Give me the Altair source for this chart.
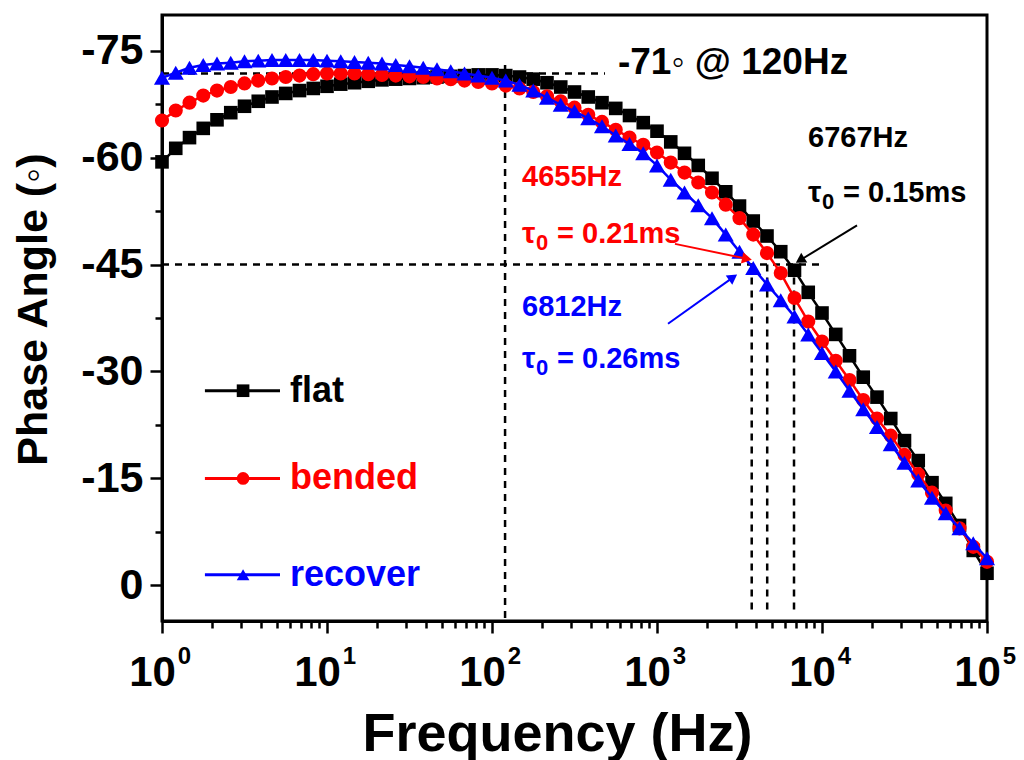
import altair as alt
import pandas as pd

FONT = "Liberation Sans"

series_names = ["flat", "bended", "recover"]
series_colors = ["#000000", "#FF0000", "#0000FF"]
series_shapes = ["square", "circle", "triangle-up"]
series_sizes = [185, 200, 260]

# measurement sweep: 12 points per decade, 1 Hz .. 100 kHz
freq_hz = [10 ** (k / 12) for k in range(61)]

flat = [-59.4, -61.3, -62.8, -64.1, -65.3, -66.3, -67.2, -67.9, -68.5, -69.0,
        -69.4, -69.7, -70.0, -70.3, -70.5, -70.7, -70.9, -71.0, -71.1, -71.2,
        -71.3, -71.4, -71.5, -71.6, -71.6, -71.5, -71.3, -71.0, -70.5, -69.9,
        -69.2, -68.5, -67.7, -66.9, -65.9, -64.9, -63.7, -62.2, -60.6, -58.9,
        -57.1, -55.2, -53.2, -51.1, -49.0, -46.8, -44.2, -41.1, -38.2, -35.2,
        -32.2, -29.2, -26.4, -23.4, -20.3, -17.5, -14.4, -11.5, -8.4, -4.9, -1.7]

bended = [-65.2, -66.6, -67.7, -68.7, -69.4, -69.9, -70.4, -70.8, -71.1, -71.3,
          -71.5, -71.7, -71.8, -71.8, -71.8, -71.7, -71.6, -71.5, -71.4, -71.3,
          -71.1, -71.0, -70.8, -70.6, -70.4, -70.1, -69.7, -69.2, -68.6, -67.9,
          -67.0, -66.0, -65.0, -63.9, -62.8, -61.8, -60.7, -59.3, -57.9, -56.5,
          -55.1, -53.4, -51.5, -49.2, -46.6, -43.8, -40.3, -37.0, -34.2, -31.5,
          -28.8, -26.0, -23.4, -21.0, -18.3, -15.6, -13.0, -10.5, -8.0, -5.4, -3.3]

recover = [-71.2, -71.9, -72.6, -73.0, -73.2, -73.3, -73.5, -73.6, -73.7, -73.7,
           -73.7, -73.7, -73.6, -73.5, -73.4, -73.3, -73.2, -73.0, -72.8, -72.6,
           -72.4, -72.1, -71.8, -71.5, -71.2, -70.8, -70.2, -69.4, -68.4, -67.4,
           -66.5, -65.5, -64.4, -63.1, -61.9, -60.6, -58.9, -56.9, -55.1, -53.3,
           -51.5, -49.2, -46.8, -44.5, -42.2, -40.0, -37.7, -35.2, -32.6, -30.0,
           -27.3, -24.7, -22.2, -19.8, -17.2, -14.7, -12.3, -10.1, -8.0, -5.9, -3.8]

x_major = [1, 10, 100, 1000, 10000, 100000]
x_minor = [m * 10 ** e for e in range(5) for m in range(2, 10)]
y_major = [-75, -60, -45, -30, -15, 0]
y_minor = [-67.5, -52.5, -37.5, -22.5, -7.5]

# dashed guide lines (x1, x2, y1, y2)
guide_x1 = [1, 1, 120, 3750, 4655, 6767]
guide_x2 = [484, 9700, 120, 3750, 4655, 6767]
guide_y1 = [-71.8, -45, -73.0, -45, -45, -45]
guide_y2 = [-71.8, -45, 5, 3.8, 3.8, 3.8]

# headline annotation
head_text = ["-71\u25e6 @ 120Hz"]
head_x = [580]
head_y = [-73.3]

# frequency labels
hz_text = ["6767Hz", "4655Hz", "6812Hz"]
hz_x = [8230, 152, 152]
hz_y = [-62.7, -57.3, -39.1]
hz_color = ["#000000", "#FF0000", "#0000FF"]

# time-constant labels (tau_0 = ...)
tau_text = ["= 0.15ms", "= 0.21ms", "= 0.26ms"]
tau_x = [8230, 152, 152]
tau_y = [-55.1, -49.3, -31.8]
tau_color = ["#000000", "#FF0000", "#0000FF"]

# arrows (start -> tip)
arr_x1 = [16300, 1285, 1166]
arr_y1 = [-50.5, -47.9, -36.7]
arr_x2 = [7360, 3510, 2890]
arr_y2 = [-45.6, -45.8, -43.2]
arr_angle = [238, 102, 55]
arr_color = ["#000000", "#FF0000", "#0000FF"]

# in-plot legend
leg_y = [-27.3, -15.0, -1.5]
leg_x1, leg_x2, leg_xm, leg_xt = 1.82, 5.19, 3.10, 5.97

rows = []
for name, vals in zip(series_names, [flat, bended, recover]):
    for f, v in zip(freq_hz, vals):
        rows.append({"series": name, "freq": f, "phase": v})
df = pd.DataFrame(rows)

guides = pd.DataFrame({"x1": guide_x1, "x2": guide_x2, "y1": guide_y1, "y2": guide_y2})
head = pd.DataFrame({"text": head_text, "x": head_x, "y": head_y})
hz = pd.DataFrame({"text": hz_text, "x": hz_x, "y": hz_y, "col": hz_color})
tau = pd.DataFrame({"text": tau_text, "x": tau_x, "y": tau_y, "col": tau_color})
arrows = pd.DataFrame({"x1": arr_x1, "y1": arr_y1, "x2": arr_x2, "y2": arr_y2,
                       "ang": arr_angle, "col": arr_color})
legend = pd.DataFrame({"series": series_names, "y": leg_y, "x1": leg_x1, "x2": leg_x2,
                       "xm": leg_xm, "xt": leg_xt})

xs = alt.Scale(type="log", domain=[1, 100000], nice=False)
ys = alt.Scale(domain=[-80, 5], reverse=True, nice=False, zero=False)
cs = alt.Scale(domain=series_names, range=series_colors)
ss = alt.Scale(domain=series_names, range=series_shapes)

x_axis_main = alt.Axis(
    orient="bottom", values=x_major, labelExpr="'10'", labelFont=FONT, labelFontSize=42,
    labelFontWeight="bold", labelColor="black", labelOffset=-10, labelPadding=19,
    labelFlush=False, labelOverlap=False, tickSize=12, tickWidth=2.5, tickColor="black",
    domainColor="black", domainWidth=3, grid=False, title="Frequency (Hz)",
    titleFont=FONT, titleFontSize=54, titleFontWeight="bold", titleColor="black",
    titleX=395, titleY=129, titleBaseline="alphabetic", titleAlign="center")
x_axis_minor = alt.Axis(
    orient="bottom", values=x_minor, labels=False, tickSize=7, tickWidth=2.5,
    tickColor="black", domain=False, grid=False, title=None)
x_axis_exp = alt.Axis(
    orient="bottom", values=x_major, labelExpr="'' + round(log(datum.value) / LN10)",
    labelFont=FONT, labelFontSize=24, labelFontWeight="bold", labelColor="black",
    labelOffset=22, labelPadding=23, labelFlush=False, labelOverlap=False, ticks=False,
    domain=False, grid=False, title=None)
y_axis_main = alt.Axis(
    orient="left", values=y_major,
    labelExpr="datum.value < 0 ? '-' + (-datum.value) : '' + datum.value",
    labelFont=FONT, labelFontSize=43, labelFontWeight="bold", labelColor="black",
    labelPadding=7, labelOverlap=False, labelFlush=False, tickSize=12, tickWidth=2.5,
    tickColor="black", domainColor="black", domainWidth=3, grid=False,
    title="Phase Angle (\u25e6)", titleFont=FONT, titleFontSize=43, titleFontWeight="bold",
    titleColor="black", titleX=-116, titleY=294, titleBaseline="alphabetic",
    titleAlign="center", titleAngle=270)
y_axis_minor = alt.Axis(
    orient="left", values=y_minor, labels=False, tickSize=7, tickWidth=2.5,
    tickColor="black", domain=False, grid=False, title=None)

base = alt.Chart(df)
layers = []
for i, name in enumerate(series_names):
    sub = base.transform_filter(alt.datum.series == name)
    if i == 0:
        xa, ya = x_axis_main, y_axis_main
        xp, yp = x_axis_minor, y_axis_minor
    elif i == 1:
        xa, ya = x_axis_exp, None
        xp, yp = None, None
    else:
        xa, ya, xp, yp = None, None, None, None
    line = sub.mark_line(strokeWidth=2.5).encode(
        x=alt.X("freq:Q", scale=xs, axis=xa),
        y=alt.Y("phase:Q", scale=ys, axis=ya),
        color=alt.Color("series:N", scale=cs, legend=None),
    )
    pts = sub.mark_point(filled=True, opacity=1).encode(
        x=alt.X("freq:Q", scale=xs, axis=xp),
        y=alt.Y("phase:Q", scale=ys, axis=yp),
        color=alt.Color("series:N", scale=cs, legend=None),
        shape=alt.Shape("series:N", scale=ss, legend=None),
        size=alt.value(series_sizes[i]),
    )
    layers += [line, pts]

guide_layer = alt.Chart(guides).mark_rule(strokeWidth=2.5, strokeDash=[7, 6], color="black").encode(
    x=alt.X("x1:Q", scale=xs, axis=None), x2="x2:Q",
    y=alt.Y("y1:Q", scale=ys, axis=None), y2="y2:Q")

arrow_lines = alt.Chart(arrows).mark_rule(strokeWidth=2).encode(
    x=alt.X("x1:Q", scale=xs, axis=None), x2="x2:Q",
    y=alt.Y("y1:Q", scale=ys, axis=None), y2="y2:Q",
    color=alt.Color("col:N", scale=None))
arrow_heads = alt.Chart(arrows).mark_point(shape="triangle-up", filled=True, opacity=1, size=130).encode(
    x=alt.X("x2:Q", scale=xs, axis=None),
    y=alt.Y("y2:Q", scale=ys, axis=None),
    angle=alt.Angle("ang:Q", scale=None),
    color=alt.Color("col:N", scale=None))

head_layer = alt.Chart(head).mark_text(align="left", baseline="middle", font=FONT,
                                        fontWeight="bold", fontSize=37, color="black").encode(
    x=alt.X("x:Q", scale=xs, axis=None),
    y=alt.Y("y:Q", scale=ys, axis=None),
    text="text:N")

hz_layer = alt.Chart(hz).mark_text(align="left", baseline="middle", font=FONT,
                                    fontWeight="bold", fontSize=29).encode(
    x=alt.X("x:Q", scale=xs, axis=None),
    y=alt.Y("y:Q", scale=ys, axis=None),
    text="text:N",
    color=alt.Color("col:N", scale=None))

tau_glyph = alt.Chart(tau).mark_text(align="left", baseline="middle", font=FONT,
                                      fontWeight="bold", fontSize=30, text="\u03c4").encode(
    x=alt.X("x:Q", scale=xs, axis=None),
    y=alt.Y("y:Q", scale=ys, axis=None),
    color=alt.Color("col:N", scale=None))
tau_sub = alt.Chart(tau).mark_text(align="left", baseline="middle", font=FONT,
                                    fontWeight="bold", fontSize=22, text="0",
                                    dx=14, dy=9).encode(
    x=alt.X("x:Q", scale=xs, axis=None),
    y=alt.Y("y:Q", scale=ys, axis=None),
    color=alt.Color("col:N", scale=None))
tau_rest = alt.Chart(tau).mark_text(align="left", baseline="middle", font=FONT,
                                     fontWeight="bold", fontSize=29, dx=35).encode(
    x=alt.X("x:Q", scale=xs, axis=None),
    y=alt.Y("y:Q", scale=ys, axis=None),
    text="text:N",
    color=alt.Color("col:N", scale=None))

leg_lines = alt.Chart(legend).mark_rule(strokeWidth=3).encode(
    x=alt.X("x1:Q", scale=xs, axis=None), x2="x2:Q",
    y=alt.Y("y:Q", scale=ys, axis=None),
    color=alt.Color("series:N", scale=cs, legend=None))
leg_pts = alt.Chart(legend).mark_point(filled=True, opacity=1, size=160).encode(
    x=alt.X("xm:Q", scale=xs, axis=None),
    y=alt.Y("y:Q", scale=ys, axis=None),
    color=alt.Color("series:N", scale=cs, legend=None),
    shape=alt.Shape("series:N", scale=ss, legend=None))
leg_text = alt.Chart(legend).mark_text(align="left", baseline="middle", font=FONT,
                                        fontWeight="bold", fontSize=36).encode(
    x=alt.X("xt:Q", scale=xs, axis=None),
    y=alt.Y("y:Q", scale=ys, axis=None),
    text="series:N",
    color=alt.Color("series:N", scale=cs, legend=None))

chart = alt.layer(
    guide_layer, *layers, arrow_lines, arrow_heads, head_layer, hz_layer,
    tau_glyph, tau_sub, tau_rest, leg_lines, leg_pts, leg_text
).resolve_axis(x="independent", y="independent").properties(
    width=825, height=606,
    padding={"left": 162, "top": 15, "right": 37, "bottom": 139},
    autosize="none",
    background="white",
).configure_view(stroke="black", strokeWidth=3)

chart.save("out.html", embed_options={"renderer": "svg", "actions": False})
